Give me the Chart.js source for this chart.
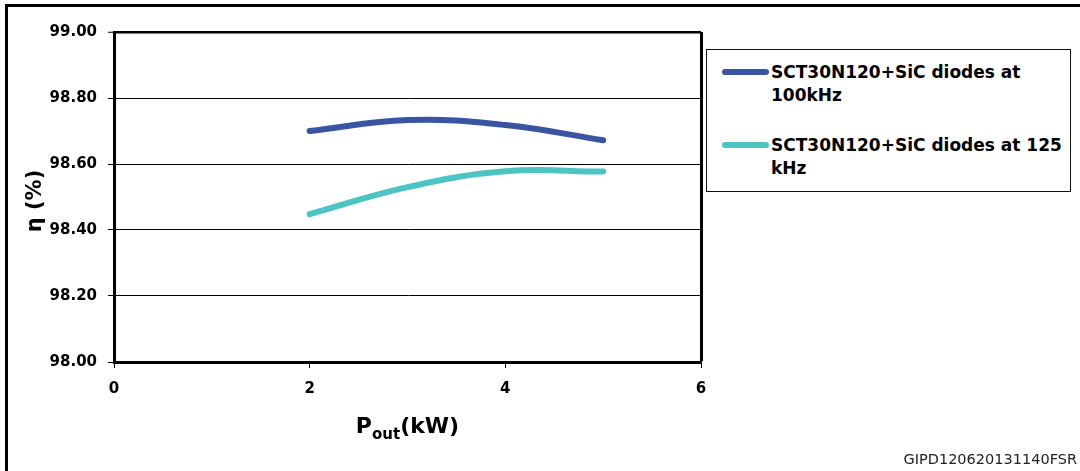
<!DOCTYPE html>
<html lang="en">

<head>
    <meta charset="UTF-8">
    <title>Efficiency vs output power</title>
    <script src="https://cdn.jsdelivr.net/npm/chart.js"></script>
    <style>
        body {
            margin: 0;
            background: #fff;
            font-family: 'DejaVu Sans', sans-serif;
        }

        .frame {
            position: absolute;
            left: 5px;
            top: 4px;
            width: 1200px;
            height: 600px;
            border-left: 3px solid #000;
            border-top: 3px solid #000;
        }

        .wrap {
            position: absolute;
            left: 0;
            top: 0;
            width: 1080px;
            height: 471px;
            overflow: hidden;
        }

        #chart {
            position: absolute;
            left: 0;
            top: 0;
        }

        .legend {
            position: absolute;
            left: 706px;
            top: 49px;
            width: 363px;
            height: 141px;
            border: 1.5px solid #111;
            background: #fff;
        }

        .legend .item {
            position: absolute;
            left: 15px;
            font-weight: bold;
            font-size: 17px;
            line-height: 23px;
        }

        .legend .swatch {
            position: absolute;
            left: 0;
            top: 8px;
            width: 47px;
            height: 6px;
            border-radius: 3px;
        }

        .legend .text {
            margin-left: 49px;
            width: 300px;
        }

        .footer {
            position: absolute;
            right: 3px;
            top: 451px;
            font-size: 14.5px;
            color: #222;
        }
    </style>
</head>

<body>
    <div class="wrap">
        <div class="frame"></div>
        <canvas id="chart" width="1080" height="471"></canvas>
        <div class="legend" id="legend"></div>
        <div class="footer">GIPD120620131140FSR</div>
    </div>

    <script>
        // data
        const powerKw = [2, 3, 4, 5];
        const eff100k = [98.700, 98.733, 98.718, 98.672];
        const eff125k = [98.448, 98.530, 98.578, 98.577];
        const seriesNames = ['SCT30N120+SiC diodes at 100kHz', 'SCT30N120+SiC diodes at 125 kHz'];
        const seriesColors = ['#3A54A4', '#4CC4C4'];
        const xTicks = [0, 2, 4, 6];
        const yTicks = [98.0, 98.2, 98.4, 98.6, 98.8, 99.0];

        const tickFont = { family: 'DejaVu Sans', size: 15, weight: 'bold' };

        function pts(ys) {
            return powerKw.map((x, i) => ({ x: x, y: ys[i] }));
        }

        // axis titles (x title has a subscript, so drawn by hand)
        const axisTitles = {
            id: 'axisTitles',
            afterDraw(chart) {
                const c = chart.ctx;
                const xs = chart.scales.x;
                c.save();
                c.fillStyle = '#000';
                c.textBaseline = 'alphabetic';
                c.textAlign = 'left';
                const big = 'bold 22px "DejaVu Sans"';
                const small = 'bold 15px "DejaVu Sans"';
                c.font = big;
                const wP = c.measureText('P').width;
                const wT = c.measureText('(kW)').width;
                c.font = small;
                const wS = c.measureText('out').width;
                let x = (xs.left + xs.right) / 2 - (wP + wS + wT) / 2;
                const base = 433;
                c.font = big;
                c.fillText('P', x, base);
                x += wP;
                c.font = small;
                c.fillText('out', x, base + 6);
                x += wS;
                c.font = big;
                c.fillText('(kW)', x, base);

                // y title
                c.translate(36, 201);
                c.rotate(-Math.PI / 2);
                c.textAlign = 'center';
                c.textBaseline = 'middle';
                c.font = 'bold 21px "DejaVu Sans"';
                c.fillText('η (%)', 0, 0);
                c.restore();
            }
        };

        const ctx = document.getElementById('chart').getContext('2d');
        const chart = new Chart(ctx, {
            type: 'line',
            data: {
                datasets: [{
                    label: seriesNames[0],
                    data: pts(eff100k),
                    borderColor: seriesColors[0],
                    borderWidth: 6,
                    borderCapStyle: 'round',
                    pointRadius: 0,
                    tension: 0.4,
                    fill: false,
                }, {
                    label: seriesNames[1],
                    data: pts(eff125k),
                    borderColor: seriesColors[1],
                    borderWidth: 6,
                    borderCapStyle: 'round',
                    pointRadius: 0,
                    tension: 0.4,
                    fill: false,
                }],
            },
            options: {
                responsive: false,
                animation: false,
                events: [],
                layout: {
                    padding: { left: 0, top: 32, right: 379, bottom: 0 },
                },
                plugins: {
                    legend: { display: false },
                    tooltip: { enabled: false },
                },
                scales: {
                    x: {
                        type: 'linear',
                        min: 0,
                        max: 6,
                        afterFit: s => { s.height = 109; },
                        afterBuildTicks: s => { s.ticks = xTicks.map(v => ({ value: v })); },
                        ticks: {
                            font: tickFont,
                            color: '#000',
                            padding: 12,
                            maxRotation: 0,
                        },
                        grid: {
                            color: c => c.tick && c.tick.value === 6 ? '#000' : 'rgba(0,0,0,0)',
                            lineWidth: c => c.tick && c.tick.value === 6 ? 3 : 1,
                            tickColor: '#000',
                            tickWidth: 1,
                            tickLength: 6,
                        },
                        border: { color: '#000', width: 3 },
                    },
                    y: {
                        min: 98,
                        max: 99,
                        afterFit: s => { s.width = 114; },
                        afterBuildTicks: s => { s.ticks = yTicks.map(v => ({ value: v })); },
                        ticks: {
                            font: tickFont,
                            color: '#000',
                            padding: 11,
                            callback: v => v.toFixed(2),
                        },
                        grid: {
                            color: '#000',
                            lineWidth: c => c.tick && c.tick.value === 99 ? 2.5 : 1,
                            tickColor: '#000',
                            tickWidth: 1,
                            tickLength: 6,
                        },
                        border: { color: '#000', width: 3 },
                    },
                },
            },
            plugins: [axisTitles],
        });

        // legend box built from the series arrays
        const legend = document.getElementById('legend');
        seriesNames.forEach((name, i) => {
            const item = document.createElement('div');
            item.className = 'item';
            item.style.top = (11 + i * 73) + 'px';
            const sw = document.createElement('div');
            sw.className = 'swatch';
            sw.style.background = seriesColors[i];
            const tx = document.createElement('div');
            tx.className = 'text';
            tx.textContent = name;
            item.appendChild(sw);
            item.appendChild(tx);
            legend.appendChild(item);
        });
    </script>
</body>

</html>
